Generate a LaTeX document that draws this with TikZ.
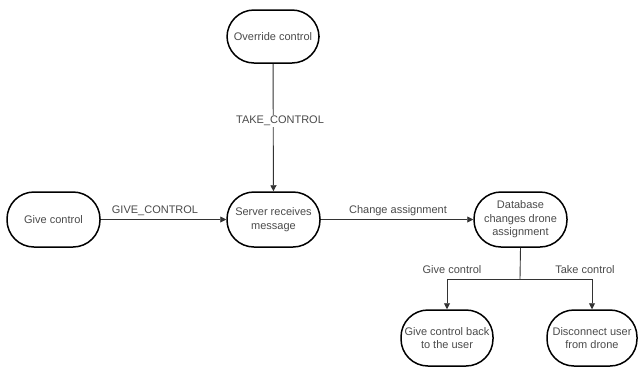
\documentclass[tikz,border=0pt]{standalone}
\usepackage{fontspec}
\setmainfont{Liberation Sans}
\usetikzlibrary{arrows.meta}
\definecolor{txt}{HTML}{4A4A4A}
\definecolor{ln}{HTML}{333333}
\begin{document}
\begin{tikzpicture}[x=1pt,y=-1pt,
  term/.style={draw=black, line width=1.5pt, rounded corners=27pt, minimum width=92pt,
    minimum height=55pt, align=center, text=txt, inner sep=1pt,
    font=\fontsize{11}{13.5}\selectfont},
  conn/.style={draw=ln, line width=0.9pt, -{Triangle[length=6pt,width=6pt]}},
  plain/.style={draw=ln, line width=0.9pt},
  lbl/.style={text=txt, font=\fontsize{11}{13}\selectfont, inner sep=1pt}]
\useasboundingbox (0,0) rectangle (638,368);
\node[term, minimum height=53pt] (ovr) at (273,36.5) {Override control};
\node[term, minimum width=93pt] (give) at (53.5,219.5) {Give control};
\node[term, minimum width=93pt] (srv) at (273.5,219.5) {Server receives\\message};
\node[term, minimum width=93pt] (db) at (520.5,219.5) {Database\\changes drone\\assignment};
\node[term, minimum height=56pt] (back) at (447,338) {Give control back\\to the user};
\node[term, minimum width=90pt, minimum height=56pt] (disc) at (592,338) {Disconnect user\\from drone};
\coordinate (j) at (520,279);
\draw[conn] (ovr) -- (srv);
\node[lbl, fill=white] (lt) at (280,121) {TAKE\_CONTROL};
\draw[conn] (give) -- (srv);
\node[lbl] (lg) at (155,211) {GIVE\_CONTROL};
\draw[conn] (srv) -- (db);
\node[lbl] (lc) at (398,211) {Change assignment};
\draw[plain] (db.south) -- (j);
\draw[conn] (j) -| (back.north);
\draw[conn] (j) -| (disc.north);
\node[lbl] (lgc) at (452,270) {Give control};
\node[lbl] (ltc) at (585,270) {Take control};
\end{tikzpicture}
\end{document}
